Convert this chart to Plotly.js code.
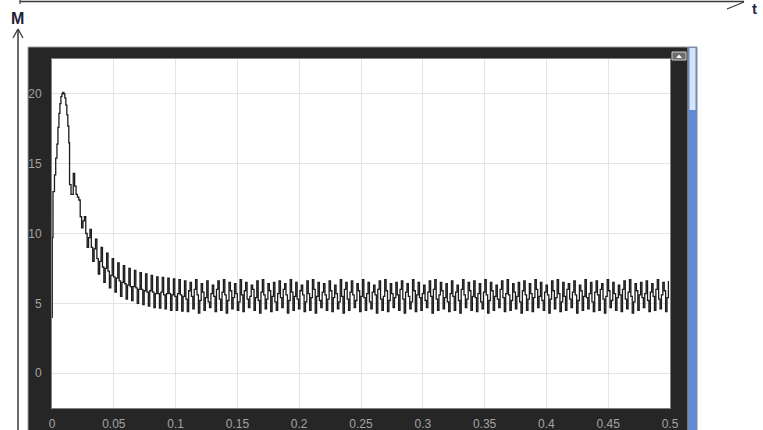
<!DOCTYPE html>
<html>
<head>
<meta charset="utf-8">
<script src="https://cdn.plot.ly/plotly-3.0.1.min.js"></script>
<style>
  html, body { margin: 0; padding: 0; background: #ffffff; }
  #chart { width: 763px; height: 430px; }
</style>
</head>
<body>
<div id="chart"></div>
<script>
// Start-up transient: time (s) and M value
const tRise = [0, 0.0002, 0.0008, 0.002, 0.003, 0.004, 0.0048, 0.0056, 0.0064, 0.0072, 0.008, 0.0088, 0.0096, 0.0104, 0.0112, 0.012, 0.0128, 0.0136, 0.0142, 0.0154];
const mRise = [4.0, 9.7, 13.0, 14.2, 15.4, 16.4, 17.6, 18.6, 19.3, 19.8, 20.0, 20.1, 20.0, 19.7, 19.2, 18.5, 17.7, 16.5, 13.5, 12.8];

// Ripple after the peak: first sample time and sample step of the scope record
const tRippleStart = 0.0172;
const tRippleStep = 0.001125;

// Ripple crests
const mCrest = [
  14.3, 12.4, 11.2, 10.3, 9.6, 9.0, 8.6, 8.2, 7.9, 7.7, 7.5, 7.35, 7.2, 7.1, 7.0, 6.9, 6.85, 6.8, 6.75, 6.7,
  6.6, 6.5, 6.7, 6.4, 6.6, 6.3, 6.6, 6.7, 6.5, 6.4,
  6.7, 6.5, 6.3, 6.6, 6.7, 6.4, 6.5, 6.6, 6.4, 6.7,
  6.5, 6.3, 6.6, 6.7, 6.5, 6.4, 6.6, 6.3, 6.7, 6.5,
  6.6, 6.4, 6.7, 6.5, 6.3, 6.6, 6.7, 6.4, 6.5, 6.6,
  6.4, 6.7, 6.5, 6.3, 6.6, 6.7, 6.5, 6.4, 6.6, 6.3,
  6.7, 6.5, 6.6, 6.4, 6.7, 6.5, 6.3, 6.6, 6.7, 6.4,
  6.5, 6.6, 6.4, 6.7, 6.5, 6.3, 6.6, 6.7, 6.5, 6.4,
  6.6, 6.3, 6.7, 6.5, 6.6, 6.4, 6.7, 6.5, 6.3, 6.6,
  6.7, 6.4, 6.5, 6.6, 6.4, 6.7, 6.5, 6.6
];
// Ripple troughs
const mTrough = [
  12.8, 10.4, 9.0, 8.0, 7.1, 6.5, 6.1, 5.8, 5.5, 5.3, 5.2, 5.0, 4.9, 4.8, 4.7, 4.65, 4.6, 4.5, 4.5, 4.45,
  4.4, 4.6, 4.3, 4.5, 4.7, 4.4, 4.5, 4.3, 4.6, 4.5,
  4.4, 4.7, 4.5, 4.3, 4.6, 4.4, 4.5, 4.7, 4.3, 4.5,
  4.6, 4.4, 4.5, 4.3, 4.7, 4.5, 4.4, 4.6, 4.3, 4.5,
  4.7, 4.4, 4.5, 4.6, 4.3, 4.5, 4.4, 4.7, 4.5, 4.3,
  4.6, 4.4, 4.5, 4.7, 4.3, 4.5, 4.6, 4.4, 4.5, 4.3,
  4.7, 4.5, 4.4, 4.6, 4.3, 4.5, 4.7, 4.4, 4.5, 4.6,
  4.3, 4.5, 4.4, 4.7, 4.5, 4.3, 4.6, 4.4, 4.5, 4.7,
  4.3, 4.5, 4.6, 4.4, 4.5, 4.3, 4.7, 4.5, 4.4, 4.6,
  4.3, 4.5, 4.7, 4.4, 4.5, 4.6, 4.4
];
// Intermediate samples between each crest and trough
const mMid = [
  13.4, 12.6, 11.2, 10.9, 10.0, 9.7, 9.0, 8.9, 8.2, 8.0,
  7.6, 7.5, 7.3, 7.0, 6.9, 6.8, 6.6, 6.5, 6.4, 6.3,
  6.2, 6.2, 6.1, 6.0, 6.0, 5.9, 5.8, 5.9, 5.8, 5.7,
  5.7, 5.8, 5.6, 5.7, 5.7, 5.6, 5.5, 5.7, 5.6, 5.5,
  5.3, 5.9, 5.5, 6.0, 5.6, 5.2, 5.8, 5.4, 5.1, 5.7,
  5.5, 6.0, 5.3, 5.8, 5.6, 5.2, 5.9, 5.4, 5.7, 5.1,
  5.6, 5.9, 5.3, 5.5, 6.0, 5.4, 5.2, 5.8, 5.6, 5.3,
  5.9, 5.5, 5.1, 5.7, 5.4, 6.0, 5.6, 5.2, 5.8, 5.5,
  5.3, 5.9, 5.6, 5.1, 5.7, 5.4, 6.0, 5.5, 5.2, 5.8,
  5.6, 5.3, 5.9, 5.4, 5.7, 5.1, 5.5, 6.0, 5.3, 5.8,
  5.6, 5.2, 5.9, 5.5, 5.4, 5.7, 5.1, 5.8, 5.6, 6.0,
  5.3, 5.5, 5.9, 5.2, 5.7, 5.4, 5.6, 6.0, 5.3, 5.8,
  5.5, 5.1, 5.9, 5.6, 5.4, 5.7, 5.2, 5.8, 5.5, 6.0,
  5.3, 5.6, 5.9, 5.4, 5.1, 5.7, 5.5, 5.8, 5.2, 6.0,
  5.6, 5.3, 5.9, 5.5, 5.4, 5.7, 5.1, 5.8, 5.6, 5.2,
  5.9, 5.5, 5.3, 6.0, 5.4, 5.7, 5.6, 5.2, 5.8, 5.5,
  5.1, 5.9, 5.6, 5.3, 5.7, 5.4, 6.0, 5.5, 5.2, 5.8,
  5.6, 5.3, 5.9, 5.4, 5.7, 5.1, 5.5, 6.0, 5.3, 5.8,
  5.6, 5.2, 5.9, 5.5, 5.4, 5.7, 5.1, 5.8, 5.6, 6.0,
  5.3, 5.5, 5.9, 5.2, 5.7, 5.4, 5.6, 6.0, 5.3, 5.8,
  5.5, 5.1, 5.9, 5.6, 5.4, 5.7, 5.2, 5.8, 5.5, 6.0,
  5.3, 5.6, 5.9, 5.4
];

// Axis ticks
const xTickVals = [0, 0.05, 0.1, 0.15, 0.2, 0.25, 0.3, 0.35, 0.4, 0.45, 0.5];
const xTickText = ['0', '0.05', '0.1', '0.15', '0.2', '0.25', '0.3', '0.35', '0.4', '0.45', '0.5'];
const yTickVals = [0, 5, 10, 15, 20];
const yTickText = ['0', '5', '10', '15', '20'];

// Build the full record: transient, then crest, mid, trough, mid, crest ...
const extrema = [];
for (let k = 0; k < mCrest.length; k++) {
  extrema.push(mCrest[k]);
  if (k < mTrough.length) extrema.push(mTrough[k]);
}
const ripple = [];
for (let i = 0; i < extrema.length; i++) {
  ripple.push(extrema[i]);
  if (i < mMid.length) ripple.push(mMid[i]);
}
const tAll = tRise.slice();
const mAll = mRise.slice();
ripple.forEach((v, i) => { tAll.push(tRippleStart + i * tRippleStep); mAll.push(v); });

// Plot-area geometry (pixels) and helpers for paper coordinates
const W = 763, H = 430, L = 52, R = 670, T = 59, B = 408;
const px = x => (x - L) / (R - L);
const py = y => (B - y) / (B - T);

function rect(x0, y0, x1, y1, fill, lineColor, lineWidth) {
  return { type: 'rect', xref: 'paper', yref: 'paper', layer: 'below',
    x0: px(x0), x1: px(x1), y0: py(y1), y1: py(y0),
    fillcolor: fill, line: { color: lineColor || fill, width: lineWidth || 0 } };
}
function seg(x0, y0, x1, y1, color, width) {
  return { type: 'line', xref: 'paper', yref: 'paper', layer: 'above',
    x0: px(x0), y0: py(y0), x1: px(x1), y1: py(y1),
    line: { color: color, width: width } };
}

const shapes = [
  // scope window frame
  rect(28, 47, 688, 436, '#262626', '#9c9c9c', 1),
  // plot canvas
  rect(L, T, R, B, '#ffffff'),
  // scrollbar
  rect(688, 47, 697, 436, '#5f8bd6', '#8a8a8a', 1),
  rect(689.5, 48, 695.5, 110, '#d7e3f6'),
  // corner button
  rect(672, 52, 686, 60, '#6c6c6c', '#d0d0d0', 1),
  { type: 'path', xref: 'paper', yref: 'paper', layer: 'above',
    path: 'M ' + px(676) + ',' + py(58) + ' L ' + px(679) + ',' + py(54.5) + ' L ' + px(682) + ',' + py(58) + ' Z',
    fillcolor: '#ffffff', line: { color: '#ffffff', width: 0 } },
  // M axis arrow
  seg(18, 29, 18, 440, '#3a3a3a', 1.5),
  seg(13, 38, 18, 29, '#3a3a3a', 1.3),
  seg(23, 38, 18, 29, '#3a3a3a', 1.3),
  // t axis arrow
  seg(20, 1.5, 744, 1.5, '#3a3a3a', 1.5),
  seg(20, 0, 20, 4, '#3a3a3a', 1.2),
  seg(727, 9, 744, 2, '#3a3a3a', 1.3)
];

const annotations = [
  { xref: 'paper', yref: 'paper', x: px(17), y: py(18), text: '<b>M</b>', showarrow: false,
    xanchor: 'center', yanchor: 'middle', font: { family: 'Liberation Sans, Arial, sans-serif', size: 16, color: '#1c2233' } },
  { xref: 'paper', yref: 'paper', x: px(754), y: py(8), text: '<b>t</b>', showarrow: false,
    xanchor: 'center', yanchor: 'middle', font: { family: 'Liberation Sans, Arial, sans-serif', size: 15, color: '#1c2a55' } }
];

// Scope trace drawn as a held (staircase) signal
const trace = {
  type: 'scatter', mode: 'lines', x: tAll, y: mAll,
  line: { color: '#1c1c1c', width: 1.3, shape: 'hv', simplify: false },
  hoverinfo: 'skip'
};

const tickFont = { family: 'Liberation Sans, Arial, sans-serif', size: 12, color: '#a3a3a3' };

const layout = {
  width: W, height: H,
  margin: { l: L, r: W - R, t: T, b: H - B, pad: 0 },
  paper_bgcolor: '#ffffff', plot_bgcolor: '#ffffff',
  showlegend: false,
  xaxis: {
    range: [0, 0.5], tickvals: xTickVals, ticktext: xTickText,
    showgrid: true, gridcolor: '#e4e4e4', gridwidth: 1, zeroline: false,
    showline: true, linecolor: '#808080', linewidth: 1, mirror: true,
    ticks: '', tickfont: tickFont, ticklabelstandoff: 5, fixedrange: true
  },
  yaxis: {
    range: [-2.5, 22.5], tickvals: yTickVals, ticktext: yTickText,
    showgrid: true, gridcolor: '#e4e4e4', gridwidth: 1, zeroline: false,
    showline: true, linecolor: '#808080', linewidth: 1, mirror: true,
    ticks: '', tickfont: tickFont, ticklabelstandoff: 7, fixedrange: true
  },
  shapes: shapes,
  annotations: annotations
};

Plotly.newPlot('chart', [trace], layout, { staticPlot: true, displayModeBar: false });
</script>
</body>
</html>
